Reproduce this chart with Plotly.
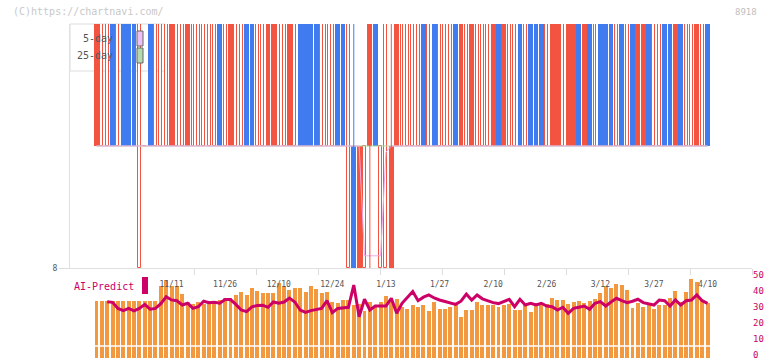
import plotly.graph_objects as go

# ---------------- data ----------------
open_ = [9, 9, 9, 10, 9, 10, 10, 10, 9, 9,
         10, 9, 9, 9, 9, 9, 9, 9, 9, 9,
         9, 9, 9, 10, 9, 9, 9, 9, 10, 10,
         9, 9, 9, 9, 9, 9, 9, 9, 10, 10,
         10, 10, 9, 9, 9, 10, 10, 9, 9, 8,
         8, 9, 10, 9, 9, 8, 9, 9, 9, 9,
         9, 10, 9, 10, 9, 9, 9, 10, 9, 9,
         9, 9, 9, 9, 9, 10, 9, 9, 9, 10,
         9, 10, 10, 10, 9, 9, 9, 9, 9, 9,
         10, 9, 10, 9, 10, 10, 10, 10, 10, 10,
         10, 9, 9, 10, 10, 9, 10, 10, 9, 10,
         9, 9, 9, 9, 10]
close = [10, 9, 9, 9, 9, 9, 9, 9, 9, 9,
         9, 9, 9, 9, 10, 9, 9, 10, 9, 9,
         9, 9, 9, 9, 9, 10, 9, 9, 9, 9,
         9, 9, 10, 10, 9, 9, 10, 9, 9, 9,
         9, 9, 9, 9, 9, 9, 9, 9, 8, 9,
         8, 10, 9, 9, 9, 9, 10, 9, 9, 9,
         9, 9, 9, 9, 9, 9, 9, 9, 10, 9,
         10, 9, 9, 9, 10, 9, 10, 9, 9, 9,
         9, 9, 9, 9, 9, 10, 10, 9, 10, 10,
         9, 10, 9, 9, 9, 9, 9, 10, 9, 10,
         9, 10, 10, 9, 10, 9, 9, 9, 10, 9,
         9, 9, 10, 9, 9]
high = [10, 10, 10, 10, 10, 10, 10, 10, 10, 9,
        10, 10, 10, 10, 10, 10, 10, 10, 10, 10,
        10, 10, 10, 10, 10, 10, 10, 10, 10, 10,
        10, 10, 10, 10, 10, 10, 10, 10, 10, 10,
        10, 10, 10, 10, 10, 10, 10, 10, 10, 9,
        9, 10, 10, 9, 10, 10, 10, 10, 10, 10,
        10, 10, 10, 10, 10, 10, 10, 10, 10, 10,
        10, 10, 10, 10, 10, 10, 10, 10, 10, 10,
        10, 10, 10, 10, 10, 10, 10, 10, 10, 10,
        10, 10, 10, 10, 10, 10, 10, 10, 10, 10,
        10, 10, 10, 10, 10, 10, 10, 10, 10, 10,
        10, 10, 10, 10, 10]
low = [9, 9, 9, 9, 9, 9, 9, 9, 8, 9,
       9, 9, 9, 9, 9, 9, 9, 9, 9, 9,
       9, 9, 9, 9, 9, 9, 9, 9, 9, 9,
       9, 9, 9, 9, 9, 9, 9, 9, 9, 9,
       9, 9, 9, 9, 9, 9, 9, 8, 8, 8,
       8, 8, 9, 8, 8, 8, 9, 9, 9, 9,
       9, 9, 9, 9, 9, 9, 9, 9, 9, 9,
       9, 9, 9, 9, 9, 9, 9, 9, 9, 9,
       9, 9, 9, 9, 9, 9, 9, 9, 9, 9,
       9, 9, 9, 9, 9, 9, 9, 9, 9, 9,
       9, 9, 9, 9, 9, 9, 9, 9, 9, 9,
       9, 9, 9, 9, 9]
ma5 = [9.0, 9.0, 9.0, 9.0, 9.0, 9.0, 9.0, 9.0, 9.0, 9.0,
       9.0, 9.0, 9.0, 9.0, 9.0, 9.0, 9.0, 9.0, 9.0, 9.0,
       9.0, 9.0, 9.0, 9.0, 9.0, 9.0, 9.0, 9.0, 9.0, 9.0,
       9.0, 9.0, 9.0, 9.0, 9.0, 9.0, 9.0, 9.0, 9.0, 9.0,
       9.0, 9.0, 9.0, 9.0, 9.0, 9.0, 9.0, 9.0, 9.0, 9.0,
       8.1, 8.1, 8.1, 8.1, 8.95, 9.0, 9.0, 9.0, 9.0, 9.0,
       9.0, 9.0, 9.0, 9.0, 9.0, 9.0, 9.0, 9.0, 9.0, 9.0,
       9.0, 9.0, 9.0, 9.0, 9.0, 9.0, 9.0, 9.0, 9.0, 9.0,
       9.0, 9.0, 9.0, 9.0, 9.0, 9.0, 9.0, 9.0, 9.0, 9.0,
       9.0, 9.0, 9.0, 9.0, 9.0, 9.0, 9.0, 9.0, 9.0, 9.0,
       9.0, 9.0, 9.0, 9.0, 9.0, 9.0, 9.0, 9.0, 9.0, 9.0,
       9.0, 9.0, 9.0, 9.0, 9.0]
ma25 = [9.0, 9.0, 9.0, 9.0, 9.0, 9.0, 9.0, 9.0, 9.0, 9.0,
        9.0, 9.0, 9.0, 9.0, 9.0, 9.0, 9.0, 9.0, 9.0, 9.0,
        9.0, 9.0, 9.0, 9.0, 9.0, 9.0, 9.0, 9.0, 9.0, 9.0,
        9.0, 9.0, 9.0, 9.0, 9.0, 9.0, 9.0, 9.0, 9.0, 9.0,
        9.0, 9.0, 9.0, 9.0, 9.0, 9.0, 9.0, 9.0, 9.0, 9.0,
        9.0, 9.0, 9.0, 9.0, 9.0, 9.0, 9.0, 9.0, 9.0, 9.0,
        9.0, 9.0, 9.0, 9.0, 9.0, 9.0, 9.0, 9.0, 9.0, 9.0,
        9.0, 9.0, 9.0, 9.0, 9.0, 9.0, 9.0, 9.0, 9.0, 9.0,
        9.0, 9.0, 9.0, 9.0, 9.0, 9.0, 9.0, 9.0, 9.0, 9.0,
        9.0, 9.0, 9.0, 9.0, 9.0, 9.0, 9.0, 9.0, 9.0, 9.0,
        9.0, 9.0, 9.0, 9.0, 9.0, 9.0, 9.0, 9.0, 9.0, 9.0,
        9.0, 9.0, 9.0, 9.0, 9.0]
bar_vals = [35.6, 35.6, 35.6, 35.6, 35.6, 35.6, 35.6, 35.6, 35.6, 35.6, 35.6, 35.6,
            45, 49, 45.2, 45.2, 40, 34.8, 33.5, 34.8, 34, 35.6,
            35.6, 36.2, 37.3, 37.3, 39.4, 41.5, 39.4, 44, 42, 40.4,
            40.4, 40.4, 46.8, 45.3, 42.8, 43.5, 44, 41.5, 45, 43.2,
            40.6, 41.4, 34.7, 34.5, 36, 36, 33.2, 34, 29.6, 34.8,
            32.7, 34.8, 38.7, 34.8, 36.9, 31.7, 30.6, 33.3, 31.7, 33.3,
            29.6, 34.8, 30.6, 30.6, 31.7, 33.3, 25.6, 30, 30, 34.8,
            33.3, 33.3, 33.3, 31.7, 33, 34, 30, 30, 33.5, 29,
            34.2, 34.2, 33.5, 37.3, 36.2, 36.2, 33.7, 35, 35.6, 34.2,
            35.8, 36.9, 40.4, 45, 43.5, 46.2, 45.6, 42.5, 31.5, 34.2,
            32, 33.1, 30.6, 33.1, 33.1, 37.3, 41.9, 34.8, 41.5, 49.4,
            47.3, 36.2, 34.2]
ai_pred = [None, None, 35.2, 34.8, 31, 29.6, 31, 29.5, 31, 33.5,
           30.5, 31, 34, 38.3, 36.3, 35.8, 33.1, 34.2, 31, 32,
           35.5, 34.5, 34.8, 34.2, 36.5, 36.5, 33.5, 30, 29, 32,
           32.8, 33, 31.7, 35, 34.2, 35, 37.5, 35, 30, 28.5,
           29.6, 30.5, 31, 35.8, 28.3, 31, 31.3, 31.7, 45.6, 25.8,
           36.7, 30, 32.5, 32.5, 32.5, 37.3, 27.9, 34.2, 38, 41.5,
           35.8, 38, 39.4, 37.5, 36.25, 35.2, 34.5, 33.5, 35.5, 40,
           36.25, 39.4, 37, 35.8, 34.6, 34, 35.5, 36.7, 32.1, 36.7,
           33.1, 34.2, 33.1, 34.2, 32.5, 32.1, 30, 31.7, 27.9, 31,
           31.7, 32.5, 30.4, 34.2, 35.2, 32.5, 35, 37.3, 35.8, 34.6,
           35.5, 36.7, 34.6, 34, 33.1, 36.25, 35.8, 32.5, 36.25, 33.1,
           35.8, 36.25, 39.4, 35.8, 34.2]
date_labels = ["11/11", "11/26", "12/10", "12/24", "1/13", "1/27",
               "2/10", "2/26", "3/12", "3/27", "4/10"]
date_label_idx = [14, 24, 34, 44, 54, 64, 74, 84, 94, 104, 114]
price_ticks = [8]
pred_ticks = [0, 10, 20, 30, 40, 50]
legend_names = ["5-day", "25-day"]

# ---------------- geometry ----------------
W, H = 772, 361
ML, MR, MT, MB = 70, 20, 24, 3
PW, PH = W - ML - MR, H - MT - MB
PITCH = 5.36          # px per trading day
FIRST = 96.5          # px of first candle centre

def pxx(px):
    return (px - ML) / PW

def pxy(py):
    return (H - MB - py) / PH

n = len(close)
idx = list(range(n))
x_lo = -(FIRST - ML) / PITCH
x_hi = x_lo + PW / PITCH
grid_step = 62 / PITCH
grid_vals = [x_lo + k * grid_step for k in range(2, 12)]

RED = "#f25441"
BLUE = "#407cf0"
ORANGE = "#f2993f"
MAG = "#cc0066"
MONO = "DejaVu Sans Mono"

# ---------------- candle decomposition ----------------
up_x, up_base, up_h = [], [], []
dn_x, dn_base, dn_h = [], [], []
dj_x, dj_base, dj_h = [], [], []
wr_x, wr_y, wb_x, wb_y = [], [], [], []
for i in idx:
    o, h, l, c = open_[i], high[i], low[i], close[i]
    if c > o:
        up_x.append(i); up_base.append(o); up_h.append(c - o)
        if h > c or l < o:
            wr_x += [i, i, None]; wr_y += [l, h, None]
    elif c < o:
        dn_x.append(i); dn_base.append(c); dn_h.append(o - c)
        if h > o or l < c:
            wb_x += [i, i, None]; wb_y += [l, h, None]
    else:
        dj_x.append(i); dj_base.append(l); dj_h.append(h - l)

fig = go.Figure()

# legend texts (drawn first so candles cover them)
fig.add_trace(go.Scatter(
    x=[(113 - FIRST) / PITCH] * 2, y=[9.87, 9.73],
    text=legend_names, mode="text", textposition="middle left",
    textfont=dict(family=MONO, size=10, color="#555"),
    hoverinfo="skip", cliponaxis=False))

fig.add_trace(go.Scatter(x=idx, y=ma25, mode="lines",
                         line=dict(color="#a9d8a2", width=1), hoverinfo="skip"))
fig.add_trace(go.Scatter(x=idx, y=ma5, mode="lines",
                         line=dict(color="#f2a8e8", width=1), hoverinfo="skip"))

fig.add_trace(go.Scatter(x=wr_x, y=wr_y, mode="lines",
                         line=dict(color=RED, width=1), hoverinfo="skip"))
fig.add_trace(go.Scatter(x=wb_x, y=wb_y, mode="lines",
                         line=dict(color=BLUE, width=1), hoverinfo="skip"))

fig.add_trace(go.Bar(x=dj_x, y=dj_h, base=dj_base, width=0.55,
                     marker=dict(color="white", line=dict(color=RED, width=1))))
fig.add_trace(go.Bar(x=up_x, y=up_h, base=up_base, width=0.9,
                     marker=dict(color=RED, line=dict(width=0))))
fig.add_trace(go.Bar(x=dn_x, y=dn_h, base=dn_base, width=0.9,
                     marker=dict(color=BLUE, line=dict(width=0))))

# lower panel
fig.add_trace(go.Scatter(
    x=date_label_idx, y=[45.6] * len(date_labels), text=date_labels,
    mode="text", textposition="middle center",
    textfont=dict(family=MONO, size=8, color="#555"),
    xaxis="x2", yaxis="y2", hoverinfo="skip", cliponaxis=False))
fig.add_trace(go.Bar(x=idx, y=bar_vals, width=0.74,
                     marker=dict(color=ORANGE, line=dict(width=0)),
                     xaxis="x2", yaxis="y2"))
fig.add_trace(go.Scatter(x=idx, y=ai_pred, mode="lines",
                         line=dict(color=MAG, width=3),
                         xaxis="x2", yaxis="y2", hoverinfo="skip"))

shapes = [
    dict(type="rect", xref="paper", yref="paper", layer="below",
         x0=pxx(70), x1=pxx(165), y0=pxy(71), y1=pxy(24),
         fillcolor="white", line=dict(color="#dddddd", width=1)),
    dict(type="rect", xref="paper", yref="paper",
         x0=pxx(137), x1=pxx(143), y0=pxy(46), y1=pxy(31),
         fillcolor="#ecc0f6", line=dict(color="#666", width=1)),
    dict(type="rect", xref="paper", yref="paper",
         x0=pxx(137), x1=pxx(143), y0=pxy(63), y1=pxy(48),
         fillcolor="#b6dab0", line=dict(color="#666", width=1)),
    dict(type="rect", xref="paper", yref="paper",
         x0=pxx(142), x1=pxx(148), y0=pxy(294), y1=pxy(277),
         fillcolor=MAG, line=dict(width=0)),
    dict(type="line", xref="x2 domain", yref="y2",
         x0=0, x1=1, y0=7.5, y1=7.5, line=dict(color="white", width=1.5)),
]

annotations = [
    dict(text="(C)https://chartnavi.com/", xref="paper", yref="paper",
         x=pxx(11), y=pxy(12), xanchor="left", yanchor="middle", showarrow=False,
         font=dict(family=MONO, size=10, color="#c8c8c8")),
    dict(text="8918", xref="paper", yref="paper",
         x=pxx(759), y=pxy(12), xanchor="right", yanchor="middle", showarrow=False,
         font=dict(family=MONO, size=9, color="#c0c0c0")),
    dict(text="AI-Predict", xref="paper", yref="paper",
         x=pxx(72), y=pxy(286), xanchor="left", yanchor="middle", showarrow=False,
         font=dict(family=MONO, size=10, color=MAG)),
]

fig.update_layout(
    width=W, height=H, margin=dict(l=ML, r=MR, t=MT, b=MB, autoexpand=False),
    paper_bgcolor="white", plot_bgcolor="white",
    showlegend=False, barmode="overlay", bargap=0,
    shapes=shapes, annotations=annotations,
    xaxis=dict(domain=[0, 1], range=[x_lo, x_hi], anchor="y", automargin=False,
               showgrid=False, zeroline=False, showline=True,
               linecolor="#e0e0e0", linewidth=1,
               tickvals=grid_vals, ticks="outside", ticklen=6,
               tickcolor="#dddddd", showticklabels=False),
    yaxis=dict(domain=[pxy(268), 1], range=[8, 10], anchor="x", automargin=False,
               tickvals=price_ticks, ticktext=[str(v) for v in price_ticks],
               ticks="outside", ticklen=10, tickcolor="#dddddd",
               showline=True, linecolor="#e0e0e0", linewidth=1,
               showgrid=False, zeroline=False,
               tickfont=dict(family=MONO, size=8, color="#555")),
    xaxis2=dict(domain=[0, 1], range=[x_lo, x_hi], anchor="y2", automargin=False,
                showgrid=False, zeroline=False, showline=False,
                showticklabels=False, ticks=""),
    yaxis2=dict(domain=[0, pxy(278)], range=[0, 50], anchor="x2", side="right",
                automargin=False, ticklabeloverflow="allow", ticklabelshift=-3,
                tickvals=pred_ticks, showgrid=False, zeroline=False,
                showline=False, ticks="",
                tickfont=dict(family=MONO, size=9, color=MAG)),
)

fig.write_html("out.html", config={"displayModeBar": False},
               post_script="document.body.style.margin='0';"
                           "document.body.style.padding='0';")
